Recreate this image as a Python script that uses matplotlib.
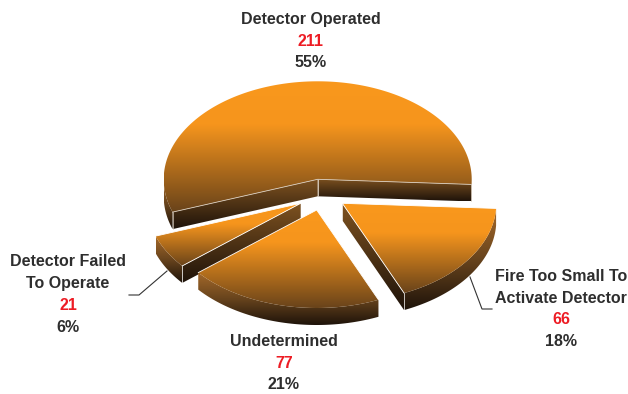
import numpy as np
import matplotlib
matplotlib.use("Agg")
import matplotlib.pyplot as plt
from matplotlib.colors import LinearSegmentedColormap
from matplotlib.patches import Polygon

# ---- data
categories = ["Detector Operated", "Detector Failed\nTo Operate", "Undetermined", "Fire Too Small To\nActivate Detector"]
counts = [211, 21, 77, 66]
percents = ["55%", "6%", "21%", "18%"]

# ---- layout (pixels)
START_ANGLE = -3.0
RX, RY, DEPTH = 154.0, 98.0, 17.0
apexes = [(317.7, 179.3), (300.7, 203.3), (316.7, 210.0), (342.3, 203.3)]
label_x = [311, 68, 284, 561]
label_y = [19.5, 262, 341.5, 276.5]
LINE_GAP = 21.7
leaders = [None, [(167, 271), (139, 295), (129, 295)], None, [(470, 277), (482, 309), (492, 309)]]

plt.rcParams["font.family"] = ["Liberation Sans", "DejaVu Sans"]
TEXT = "#2E2E2E"
RED = "#ED1C24"
FS = 11.5

top_cmap = LinearSegmentedColormap.from_list("top", [(0, "#F9981C"), (0.33, "#F6951D"), (1, "#69431A")])
wall_cmap = LinearSegmentedColormap.from_list("wall", [(0, "#7E5220"), (1, "#1E130A")])
rim_cmap = LinearSegmentedColormap.from_list("rim", [(0, "#A5692A"), (0.5, "#68441D"), (1, "#1E130A")])

fig = plt.figure(figsize=(6.28, 3.94), dpi=100)
ax = fig.add_axes([0, 0, 1, 1])
ax.set_axis_off()


def rim(cx, cy, t0, t1):
    t = np.radians(np.linspace(t0, t1, max(int(abs(t1 - t0)) * 2, 2)))
    return np.column_stack([cx + RX * np.cos(t), cy - RY * np.sin(t)])


def shade(points, cmap, z):
    x0, y0 = points.min(axis=0)
    x1, y1 = points.max(axis=0)
    grad = np.linspace(0, 1, 256).reshape(-1, 1)
    im = ax.imshow(grad, cmap=cmap, extent=(x0, x1, y1, y0), aspect="auto",
                   interpolation="bilinear", zorder=z, vmin=0, vmax=1)
    poly = Polygon(points, closed=True, transform=ax.transData, fc="none", ec="none")
    ax.add_patch(poly)
    im.set_clip_path(poly)


angle = START_ANGLE
total = float(sum(counts))
for i, count in enumerate(counts):
    sweep = 360.0 * count / total
    t0, t1 = angle, angle + sweep
    angle = t1
    cx, cy = apexes[i]
    z = 2 + i * 2
    edge = "#D9CDBE" if i == 0 else "white"

    # outer wall: only the lower half of the ellipse is visible
    for a, b in ((-180, 0), (180, 360)):
        lo, hi = max(t0, a), min(t1, b)
        if hi > lo:
            arc = rim(cx, cy, lo, hi)
            shade(np.vstack([arc, arc[::-1] + (0, DEPTH)]), rim_cmap, z)

    # radial walls that face the viewer
    for t, normal in ((t0, t0 - 90), (t1, t1 + 90)):
        if np.sin(np.radians(normal)) < 0:
            p = rim(cx, cy, t, t)[0]
            shade(np.array([(cx, cy), p, p + (0, DEPTH), (cx, cy + DEPTH)]), wall_cmap, z + 0.1)
            ax.plot([p[0], p[0]], [p[1], p[1] + DEPTH], color=edge, lw=0.5, zorder=z + 0.2)
            ax.plot([cx, cx], [cy, cy + DEPTH], color=edge, lw=0.5, zorder=z + 0.2)

    # top face
    face = np.vstack([[(cx, cy)], rim(cx, cy, t0, t1)])
    shade(face, top_cmap, z + 0.5)
    ax.plot([face[1, 0], cx, face[-1, 0]], [face[1, 1], cy, face[-1, 1]],
            color=edge, lw=0.6, zorder=z + 0.6)

    # labels
    y = label_y[i]
    for ln in categories[i].split("\n"):
        ax.text(label_x[i], y, ln, ha="center", va="center", fontsize=FS,
                fontweight="bold", color=TEXT, zorder=30)
        y += LINE_GAP
    ax.text(label_x[i], y, str(count), ha="center", va="center", fontsize=FS,
            fontweight="bold", color=RED, zorder=30)
    y += LINE_GAP
    ax.text(label_x[i], y, percents[i], ha="center", va="center", fontsize=FS,
            fontweight="bold", color=TEXT, zorder=30)

    if leaders[i]:
        xs, ys = zip(*leaders[i])
        ax.plot(xs, ys, color="#333333", lw=0.8, zorder=25)

ax.set_xlim(0, 628)
ax.set_ylim(394, 0)
fig.savefig("out.png", dpi=100)
